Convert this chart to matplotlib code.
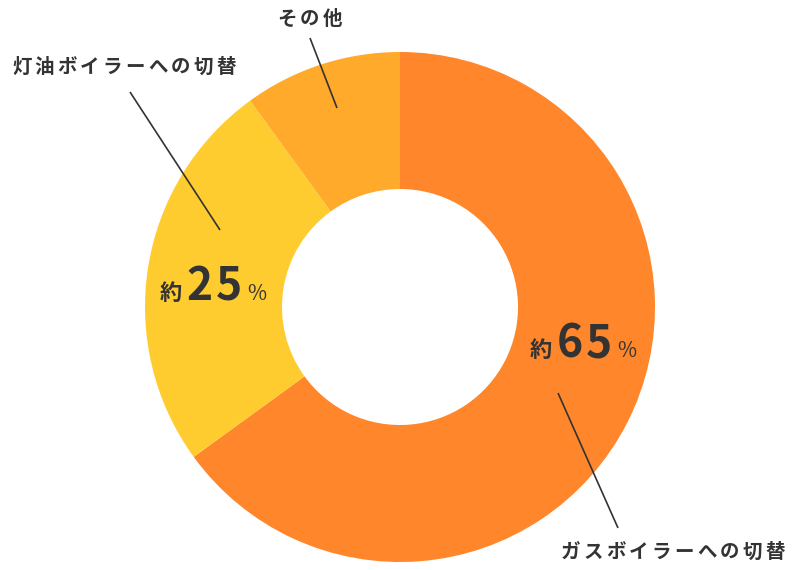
import matplotlib
matplotlib.use("Agg")
import matplotlib.pyplot as plt

# ---- data ----
categories = ["ガスボイラーへの切替", "灯油ボイラーへの切替", "その他"]
values = [65, 25, 10]
pct_labels = ["65", "25", None]
colors = ["#FF862A", "#FFCC2F", "#FFAA2A"]

W, H = 800, 570
plt.rcParams['font.family'] = ['Noto Sans CJK JP', 'DejaVu Sans']
TXT = "#333333"

fig = plt.figure(figsize=(W / 100, H / 100), dpi=100)
ax = fig.add_axes([0, 0, 1, 1])

cx, cy, R, r_in = 400, H - 307, 255, 118
ax.pie(values, colors=colors, startangle=90, counterclock=False,
       center=(cx, cy), radius=R, frame=True,
       wedgeprops=dict(width=R - r_in, linewidth=0))
ax.set_xlim(0, W)
ax.set_ylim(0, H)
ax.set_aspect('equal')
ax.axis('off')


def Y(y):
    return H - y


def spaced(text, x0, y_base, adv=22.7, size=14):
    for i, ch in enumerate(text):
        ax.text(x0 + i * adv, Y(y_base), ch, fontsize=size, color=TXT,
                fontweight='bold', ha='left', va='baseline')


# category labels (layout positions)
label_pos = {"ガスボイラーへの切替": (561, 558),
             "灯油ボイラーへの切替": (12, 73),
             "その他": (277, 25)}
for c in categories:
    x0, yb = label_pos[c]
    spaced(c, x0, yb)

# leader lines
leaders = {"ガスボイラーへの切替": ((558, 393), (618, 528)),
           "灯油ボイラーへの切替": ((220, 230), (130, 92)),
           "その他": ((337, 108), (310, 38))}
for c in categories:
    (x1, y1), (x2, y2) = leaders[c]
    ax.plot([x1, x2], [Y(y1), Y(y2)], color=TXT, lw=1.2, solid_capstyle='butt')

# percent labels
pct_pos = {"65": (530, 357), "25": (160, 300)}
for p in pct_labels:
    if p is None:
        continue
    x0, yb = pct_pos[p]
    ax.text(x0 + 11, Y(yb), "約", fontsize=16, color=TXT, fontweight='bold',
            ha='center', va='baseline')
    for i, d in enumerate(p):
        ax.text(x0 + 40 + i * 28.5, Y(yb), d, fontsize=32, color=TXT,
                fontweight='bold', ha='center', va='baseline')
    ax.text(x0 + 97, Y(yb), "%", fontsize=15, color=TXT,
            ha='center', va='baseline')

fig.savefig("out.png", dpi=100)
